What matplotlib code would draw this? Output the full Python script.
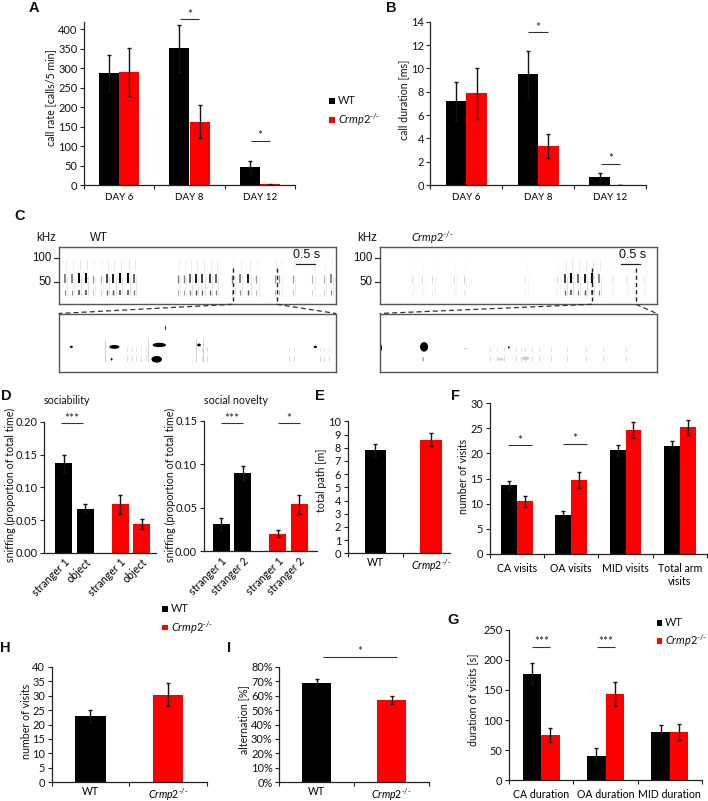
import matplotlib
matplotlib.use('Agg')
import matplotlib.pyplot as plt
from matplotlib.lines import Line2D
from matplotlib.patches import Rectangle, Ellipse

W, H = 708, 801
plt.rcParams['font.family'] = ['Lato', 'DejaVu Sans']
plt.rcParams['mathtext.fontset'] = 'custom'
plt.rcParams['mathtext.rm'] = 'Lato'
plt.rcParams['mathtext.it'] = 'Lato:italic'
plt.rcParams['mathtext.bf'] = 'Lato:bold'

KO = '$\\mathit{Crmp2}^{\u2010/\u2010}$'
BLACK, RED, AXC = '#000000', '#ff0000', '#222222'
TICK_FS, LAB_FS, CAT_FS = 7.9, 7.7, 7.6

# ---- data ----
days = ['DAY 6', 'DAY 8', 'DAY 12']
rate_wt, rate_wt_err = [288, 351, 45], [46, 60, 17]
rate_ko, rate_ko_err = [290, 163, 2], [62, 42, 1]
dur_wt, dur_wt_err = [7.2, 9.5, 0.65], [1.6, 2.0, 0.35]
dur_ko, dur_ko_err = [7.85, 3.35, 0.02], [2.15, 1.0, 0.01]

soc_labels = ['stranger 1', 'object', 'stranger 1', 'object']
soc_vals, soc_err = [0.137, 0.067, 0.074, 0.044], [0.013, 0.007, 0.015, 0.007]
nov_labels = ['stranger 1', 'stranger 2', 'stranger 1', 'stranger 2']
nov_vals, nov_err = [0.031, 0.090, 0.020, 0.054], [0.007, 0.008, 0.004, 0.011]
geno = ['WT', KO]
path_vals, path_err = [7.85, 8.6], [0.45, 0.5]
arm_cats = ['CA visits', 'OA visits', 'MID visits', 'Total arm\nvisits']
arm_wt, arm_wt_err = [13.7, 7.7, 20.6, 21.4], [0.9, 0.8, 1.1, 1.1]
arm_ko, arm_ko_err = [10.5, 14.7, 24.6, 25.2], [1.1, 1.6, 1.6, 1.5]
dur_cats = ['CA duration', 'OA duration', 'MID duration']
visit_wt, visit_wt_err = [177, 41, 80], [17, 12, 12]
visit_ko, visit_ko_err = [75, 144, 80], [12, 20, 13]
num_vals, num_err = [23, 30.3], [2, 3.9]
alt_vals, alt_err = [69, 57], [2.5, 2.7]

# spectrogram call times (s), relative strength
wt_t = [.17, .35, .53, .73, .91, 1.13, 1.29, 1.46, 1.64, 1.84, 2.01, 3.18, 3.34, 3.51, 3.67, 3.84, 4.03, 4.20,
        4.64, 4.85, 5.07, 5.28, 5.78, 5.90, 6.26, 6.78, 7.08, 7.28]
wt_s = [.6, .6, 1, 1, .4, .3, .8, .9, 1, 1, .7, .5, .5, .7, .9, .8, .8, .7, .5, .6, .9, .4, .4, .4, .4, .3, .3, .6]
ko_t = [.87, 1.14, 1.41, 1.99, 2.26, 3.90, 4.75, 4.96, 5.12, 5.31, 5.49, 5.68, 5.86, 6.22, 6.58, 7.07]
ko_s = [.15, .15, .15, .15, .2, .1, .15, .8, 1, .7, .9, 1, .6, .12, .12, .1]
wt_blob_t = [.054, .237, .428, .417, .597, 1.092, .455, .225]
wt_blob_f = [54, 54, 58, 28, 58, 54, 94, 28]
wt_blob_w = [.012, .043, .057, .045, .016, .014, .004, .008]
wt_blob_h = [5, 8, 9, 14, 6, 5, 10, 5]
wt_thin_t = [.195, .38, .583, .613]
wt_faint_t = [.29, .31, .33, .35, .37, .61, .63, .98, 1.0, 1.11, 1.13, 1.15]
ko_blob_t = [.004, .189, .55, .366, .622, .515, .185]
ko_blob_f = [52, 54, 53, 50, 30, 28, 28]
ko_blob_w = [.012, .034, .008, .012, .03, .025, .006]
ko_blob_h = [14, 20, 4, 2, 8, 6, 10]
ko_blob_g = [0, 0, 0, .7, .8, .85, .6]
ko_faint_t = [.47, .5, .53, .58, .6, .62, .65, .68, .73, .8, .88, .95, 1.05]


fig = plt.figure(figsize=(W / 100, H / 100), dpi=100)


def px_axes(left, right, top, bottom):
    return fig.add_axes([left / W, 1 - bottom / H, (right - left) / W, (bottom - top) / H])


def ftext(x, y, s, **kw):
    kw.setdefault('ha', 'center')
    kw.setdefault('va', 'center')
    kw.setdefault('fontsize', LAB_FS)
    kw.setdefault('color', '#111111')
    return fig.text(x / W, 1 - y / H, s, **kw)


def style(ax, yticks, ylim, yfmt=None):
    for s in ('top', 'right'):
        ax.spines[s].set_visible(False)
    for s in ('left', 'bottom'):
        ax.spines[s].set_color(AXC)
        ax.spines[s].set_linewidth(0.9)
    ax.set_ylim(*ylim)
    ax.set_yticks(yticks)
    if yfmt:
        ax.set_yticklabels([yfmt(v) for v in yticks])
    ax.tick_params(axis='y', length=3.2, width=0.8, pad=1.5, labelsize=TICK_FS, color=AXC, labelcolor='#111111')


def boundary_ticks(ax, n, labels, pad=6, fs=CAT_FS):
    ax.set_xlim(-0.5, n - 0.5)
    ax.set_xticks([i - 0.5 for i in range(n + 1)])
    ax.set_xticklabels([])
    ax.set_xticks(range(n), minor=True)
    ax.set_xticklabels(labels, minor=True, fontsize=fs)
    ax.tick_params(axis='x', which='major', length=3, width=0.8, color=AXC)
    ax.tick_params(axis='x', which='minor', length=0, pad=pad)


def paired(ax, a, ae, b, be, w):
    xs = range(len(a))
    ekw = dict(elinewidth=1, capthick=1, ecolor='#111111')
    ax.bar([x - w / 2 for x in xs], a, w, color=BLACK, yerr=ae, capsize=1.7, error_kw=ekw)
    ax.bar([x + w / 2 for x in xs], b, w, color=RED, yerr=be, capsize=1.7, error_kw=ekw)


def single(ax, xs, v, e, colors, w):
    ekw = dict(elinewidth=1, capthick=1, ecolor='#111111')
    ax.bar(xs, v, w, color=colors, yerr=e, capsize=1.7, error_kw=ekw)


def sig(ax, x0, x1, y, s='*', dy=5):
    ax.plot([x0, x1], [y, y], color='#333333', lw=0.8, clip_on=False, solid_capstyle='butt')
    ax.annotate(s, ((x0 + x1) / 2, y), xytext=(0, dy - 5.2), textcoords='offset points', ha='center', va='bottom',
                fontsize=8.6, color='#222222', annotation_clip=False)


def legend(x, y1, y2, text_x):
    for y, c, s in ((y1, BLACK, 'WT'), (y2, RED, KO)):
        fig.add_artist(Rectangle((x / W, 1 - (y + 2.7) / H), 5.6 / W, 5.4 / H, transform=fig.transFigure, color=c, lw=0))
        ftext(text_x, y, s, ha='left', fontsize=LAB_FS + 0.2)


# ---- A ----
ax = px_axes(84, 295, 22, 185)
style(ax, range(0, 401, 50), (0, 419))
paired(ax, rate_wt, rate_wt_err, rate_ko, rate_ko_err, 0.285)
boundary_ticks(ax, 3, days, fs=7)
sig(ax, 0.87, 1.14, 426)
sig(ax, 1.87, 2.14, 113)
ftext(51, 98, 'call rate [calls/5 min]', rotation=90)
legend(329, 101, 120, 338)

# ---- B ----
ax = px_axes(430.3, 646, 21.7, 185)
style(ax, range(0, 15, 2), (0, 14))
paired(ax, dur_wt, dur_wt_err, dur_ko, dur_ko_err, 0.287)
boundary_ticks(ax, 3, days, fs=7)
sig(ax, 0.86, 1.14, 13.09)
sig(ax, 1.87, 2.14, 1.83)
ftext(404, 100, 'call duration [ms]', rotation=90)


# ---- C ----
def box(left, right, top, bottom, xmax):
    a = px_axes(left, right, top, bottom)
    a.set_xlim(0, xmax)
    a.set_ylim(2, 124)
    a.set_xticks([])
    a.set_yticks([])
    for s in a.spines.values():
        s.set_color('#555555')
        s.set_linewidth(1)
    return a


def gray(s):
    v = max(0, 1 - s)
    return (v, v, v)


def calls(a, ts, ss):
    for t, s in zip(ts, ss):
        a.vlines(t, 47, 62 + 6 * s, color=gray(s), lw=0.5 + 1.0 * s)
        a.vlines(t, 21, 33, color=gray(s * 0.75), lw=0.4 + 0.7 * s)
        a.vlines(t + 0.06, 20, 62, color=gray(0.10 * (s + .3)), lw=0.7)
        a.vlines(t + 0.03, 76, 96, color=gray(0.08 * (s + .3)), lw=0.7)


def blobs(a, ts, fs, ws, hs, gs=None):
    gs = gs or [0] * len(ts)
    for t, f, w, h, g in zip(ts, fs, ws, hs, gs):
        a.add_patch(Ellipse((t, f), w, h, color=(g, g, g), lw=0))


for left, right, ts, ss, bt, bf, bw, bh, bg, faint, v1, v2, sb1, sb2, sbt, name, name_x in (
        (58.7, 336, wt_t, wt_s, wt_blob_t, wt_blob_f, wt_blob_w, wt_blob_h, None, wt_faint_t,
         232.7, 276.7, 296, 314.7, 306.7, 'WT', 90),
        (379.7, 656.7, ko_t, ko_s, ko_blob_t, ko_blob_f, ko_blob_w, ko_blob_h, ko_blob_g, ko_faint_t,
         592, 636, 621.3, 640, 632.3, KO, 410.7)):
    a = box(left, right, 247, 304.3, 7.41)
    calls(a, ts, ss)
    b = box(left, right, 313.5, 371.7, 1.18)
    b.vlines(faint, 24, 34, color='#d8d8d8', lw=0.7)
    b.vlines(faint, 46, 54, color='#e2e2e2', lw=0.7)
    blobs(b, bt, bf, bw, bh, bg)
    if bg is None:
        for t in wt_thin_t:
            b.vlines(t, 22, 70, color='#cccccc', lw=0.6)
    fig.add_artist(Line2D([sb1 / W, sb2 / W], [1 - 264.3 / H] * 2, color='#222222', lw=0.9))
    ftext(sbt, 255.5, '0.5 s', family='Liberation Sans', fontsize=9)
    for y, s in ((258.3, '100'), (281.7, '50')):
        fig.add_artist(Line2D([(left - 5) / W, left / W], [1 - y / H] * 2, color='#333333', lw=0.9))
        ftext(left - 7, y, s, ha='right', family='Liberation Sans', fontsize=8.3)
    ftext(left - 13, 237.7, 'kHz', family='Liberation Sans', fontsize=8.3)
    ftext(name_x, 238, name, ha='left', family='Liberation Sans' if name == 'WT' else None, fontsize=8.3 if name == 'WT' else 8)
    for vx in (v1, v2):
        fig.add_artist(Line2D([vx / W] * 2, [1 - 268 / H, 1 - 304.3 / H], color='#222222', lw=1, ls=(0, (3, 2.2))))
    fig.add_artist(Line2D([v1 / W, left / W], [1 - 304.3 / H, 1 - 313.5 / H], color='#333333', lw=0.9, ls=(0, (4, 2.5))))
    fig.add_artist(Line2D([v2 / W, right / W], [1 - 304.3 / H, 1 - 313.5 / H], color='#333333', lw=0.9, ls=(0, (4, 2.5))))


# ---- D ----
def grouped(left, right, y_top, y_bot, ylim, xr, pos, vals, err, labels, w):
    ax = px_axes(left, right, y_top, y_bot)
    style(ax, [0, 0.05, 0.10, 0.15, 0.20][:int(round(ylim[1] / 0.05)) + 1], ylim, lambda v: f'{v:.2f}')
    single(ax, pos, vals, err, [BLACK, BLACK, RED, RED], w)
    ax.set_xlim(*xr)
    ax.set_xticks(pos)
    ax.set_xticklabels(labels, rotation=45, ha='right', rotation_mode='anchor', fontsize=LAB_FS)
    ax.tick_params(axis='x', length=0, pad=3)
    return ax


soc_pos = [0, 1, 2.61, 3.61]
ax = grouped(44.3, 156, 422, 552.7, (0, 0.2), (-0.885, 4.26), soc_pos, soc_vals, soc_err, soc_labels, 0.785)
sig(ax, -0.13, 0.91, 0.198, '***')
ftext(10, 485, 'sniffing (proportion of total time)', rotation=90)
ftext(67, 400.7, 'sociability')

nov_pos = [0, 1, 2.62, 3.62]
ax = grouped(203.7, 317, 420.7, 551.3, (0, 0.15), (-0.82, 4.45), nov_pos, nov_vals, nov_err, nov_labels, 0.8)
sig(ax, -0.03, 1.02, 0.147, '***')
sig(ax, 2.62, 3.66, 0.147)
ftext(170, 485, 'sniffing (proportion of total time)', rotation=90)
ftext(236, 400.7, 'social novelty')
legend(162, 609, 627.7, 171)

# ---- E ----
ax = px_axes(347.7, 450, 421.3, 553.3)
style(ax, range(0, 11), (0, 10))
single(ax, [0, 1], path_vals, path_err, [BLACK, RED], 0.395)
boundary_ticks(ax, 2, geno, pad=3)
ax.set_xlim(-0.5, 1.34)
ftext(321.7, 480, 'total path [m]', rotation=90)

# ---- F ----
ax = px_axes(489.7, 707, 403.3, 553.7)
style(ax, range(0, 31, 5), (0, 30))
paired(ax, arm_wt, arm_wt_err, arm_ko, arm_ko_err, 0.289)
boundary_ticks(ax, 4, arm_cats, pad=6.5)
sig(ax, -0.17, 0.28, 21.6)
sig(ax, 0.85, 1.30, 21.9)
ftext(464, 476, 'number of visits', rotation=90)

# ---- G ----
ax = px_axes(509, 702, 629.7, 780.3)
style(ax, range(0, 251, 50), (0, 250))
paired(ax, visit_wt, visit_wt_err, visit_ko, visit_ko_err, 0.285)
boundary_ticks(ax, 3, dur_cats, pad=6)
sig(ax, -0.135, 0.14, 222, '***')
sig(ax, 0.87, 1.14, 222, '***')
ftext(473, 700, 'duration of visits [s]', rotation=90)
legend(656.7, 623, 641, 665)

# ---- H ----
ax = px_axes(51.7, 206.7, 666.7, 782.3)
style(ax, range(0, 41, 5), (0, 40))
single(ax, [0, 1], num_vals, num_err, [BLACK, RED], 0.395)
boundary_ticks(ax, 2, geno, pad=3)
ftext(27, 721, 'number of visits', rotation=90)

# ---- I ----
ax = px_axes(279.3, 429, 666.7, 782.3)
style(ax, range(0, 81, 10), (0, 80), lambda v: f'{v}%')
single(ax, [0, 1], alt_vals, alt_err, [BLACK, RED], 0.393)
boundary_ticks(ax, 2, geno, pad=3)
sig(ax, 0.09, 1.07, 86.7)
ftext(244, 720, 'alternation [%]', rotation=90)

# ---- panel letters ----
for s, x, y in (('A', 34, 8), ('B', 391, 8), ('C', 20, 216), ('D', 6, 395.5), ('E', 320, 395.5), ('F', 455, 395.5),
                ('G', 452.7, 620), ('H', 5, 648), ('I', 228.7, 648.5)):
    ftext(x, y, s, family='Liberation Sans', fontweight='bold', fontsize=10.5, color='#111111')

fig.savefig('out.png', dpi=100)
